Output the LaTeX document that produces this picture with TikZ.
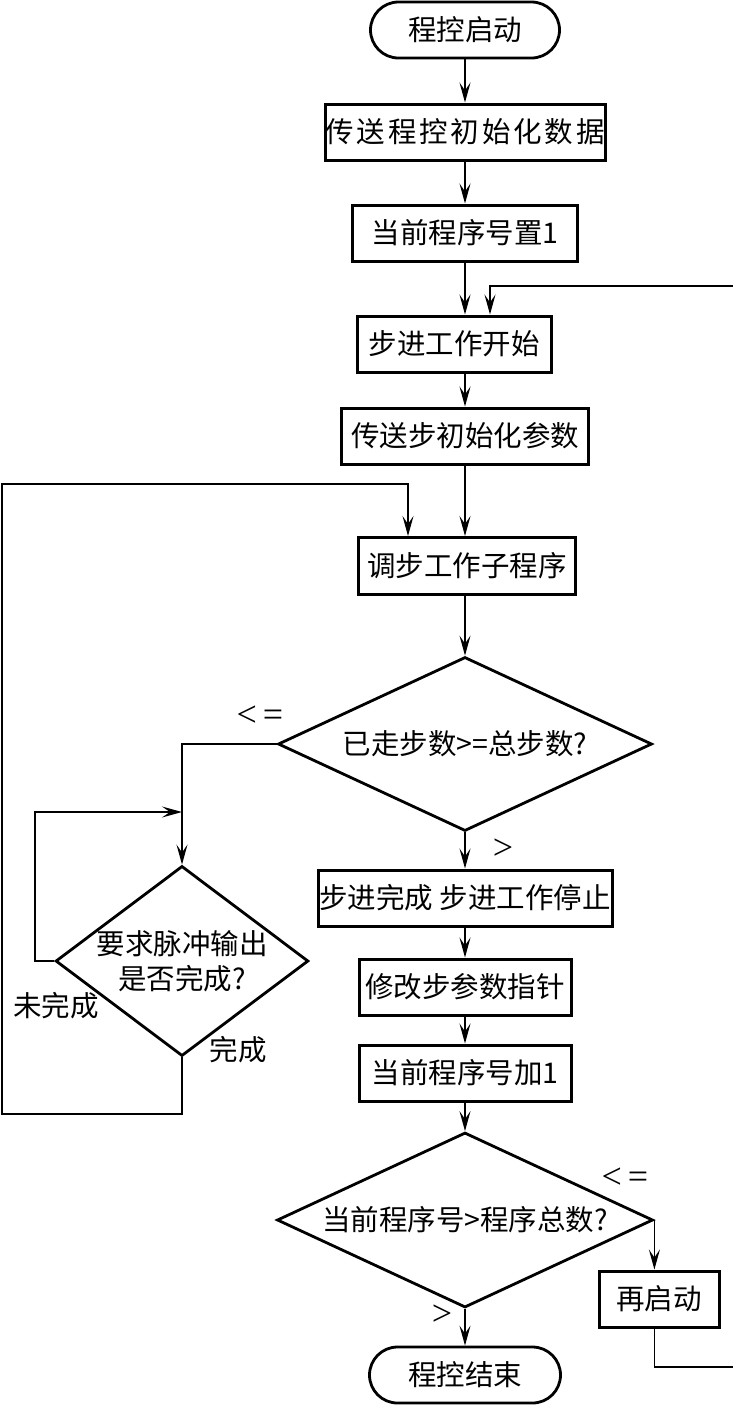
\documentclass[tikz,border=0pt]{standalone}
\usepackage{fontspec}
\setmainfont{Liberation Serif}
\newfontfamily\cjk{Noto Sans CJK SC}
\newfontfamily\cjkwide{Noto Sans CJK SC}[LetterSpace=10]
\usetikzlibrary{shapes.geometric,arrows.meta}
\begin{document}
\begin{tikzpicture}[x=1pt,y=-1pt,
 every node/.style={font=\cjk\fontsize{28.5pt}{35pt}\selectfont},
 box/.style={draw,line width=3pt,rectangle,minimum height=56pt,inner sep=0pt},
 term/.style={draw,line width=2.8pt,rectangle,rounded corners=28pt,minimum height=56pt,inner sep=0pt},
 dia/.style={draw,line width=2.8pt,diamond,inner sep=0pt},
 arr/.style={line width=1.4pt,-{Stealth[length=20pt,width=11pt,inset=8pt]}},
 lab/.style={font=\fontsize{36pt}{40pt}\selectfont}]
\useasboundingbox (0,0) rectangle (733,1414);
\clip (0,0) rectangle (733,1414);
% nodes
\node[term,minimum width=189pt] (st) at (465,30) {程控启动};
\node[box,minimum width=280pt] (b1) at (465,132) {\cjkwide 传送程控初始化数据\hspace{-5pt}};
\node[box,minimum width=225pt] (b2) at (465,233) {当前程序号置1};
\node[box,minimum width=194pt] (b3) at (454,344) {步进工作开始};
\node[box,minimum width=247pt] (b4) at (465,436) {传送步初始化参数};
\node[box,minimum width=217pt,minimum height=57pt] (b5) at (467,566) {调步工作子程序};
\node[dia,minimum width=374pt,minimum height=174pt,shape aspect=2.15] (d1) at (465,744) {已走步数>=总步数?};
\node[dia,minimum width=251pt,minimum height=189pt,shape aspect=1.33,align=center] (d2) at (182,961) {要求脉冲输出\\是否完成?};
\node[box,minimum width=294pt] (b6) at (465,898) {步进完成 步进工作停止};
\node[box,minimum width=212pt] (b7) at (465,987) {修改步参数指针};
\node[box,minimum width=212pt] (b8) at (465,1073) {当前程序号加1};
\node[dia,minimum width=376pt,minimum height=175pt,shape aspect=2.15] (d3) at (465,1220) {当前程序号>程序总数?};
\node[box,minimum width=120pt] (rs) at (659,1299) {再启动};
\node[term,minimum width=191pt] (en) at (465,1375) {程控结束};
% labels
\node[lab] (l1) at (260,716) {<\,=};
\node[lab] (l2) at (503,849) {>};
\node (l3) at (56,1006) {未完成};
\node (l4) at (238,1050) {完成};
\node[lab] (l5) at (625,1178) {<\,=};
\node[lab] (l6) at (442,1315) {>};
% helper coordinates
\coordinate (j1) at (182,812);
\coordinate (lb) at (2,1114);
\coordinate (in5) at (408,484);
\coordinate (rb) at (745,1367);
\coordinate (in3) at (490,286);
% connectors
\draw[arr] (st) -- (b1);
\draw[arr] (b1) -- (b2);
\draw[arr] (b2.south) -- (b2.south |- b3.north);
\draw[arr] (b4.north |- b3.south) -- (b4.north);
\draw[arr] (b4.south) -- (b4.south |- b5.north);
\draw[arr] (b5.south -| d1.north) -- (d1.north);
\draw[arr] (d1.south) -- (b6.north);
\draw[arr] (b6) -- (b7);
\draw[arr] (b7) -- (b8);
\draw[arr] (b8.south) -- (d3.north);
\draw[arr] (d3.south) -- (en.north);
\draw[arr] (d1.west) -| (d2.north);
\draw[arr] (d2.west) -- ++(-19,0) |- (j1);
\draw[arr] (d2.south) |- (lb) |- (in5) -- (in5 |- b5.north);
\draw[arr] (d3.east) -- (d3.east |- rs.north);
\draw[arr] (d3.east |- rs.south) |- (rb) |- (in3) -- (in3 |- b3.north);
\end{tikzpicture}
\end{document}
